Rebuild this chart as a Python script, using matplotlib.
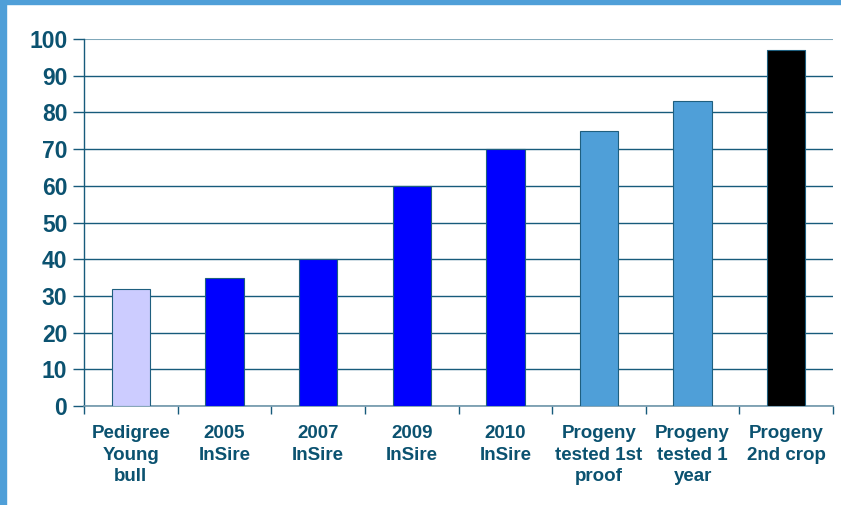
import matplotlib.pyplot as plt
from matplotlib.patches import Rectangle
import numpy as np

categories = ["Pedigree\nYoung\nbull", "2005\nInSire", "2007\nInSire", "2009\nInSire",
              "2010\nInSire", "Progeny\ntested 1st\nproof", "Progeny\ntested 1\nyear",
              "Progeny\n2nd crop"]
values = [32, 35, 40, 60, 70, 75, 83, 97]
colors = ["#CCCCFF", "#0000FF", "#0000FF", "#0000FF", "#0000FF",
          "#4F9FD8", "#4F9FD8", "#000000"]

text_col = "#0B5270"
plt.rcParams["font.family"] = ["Liberation Sans", "DejaVu Sans"]
plt.rcParams["font.weight"] = "bold"

fig = plt.figure(figsize=(8.41, 5.05), dpi=100)
ax = fig.add_axes([0.0999, 0.196, 0.8906, 0.7268])

x = np.arange(len(values))
ax.bar(x, values, width=0.41, color=colors, edgecolor="#1F5F7F", linewidth=0.8, zorder=3)

ax.set_xlim(-0.5, len(values) - 0.5)
ax.set_ylim(0, 100)
ax.set_yticks(range(0, 101, 10))
ax.grid(axis="y", color="#175B7B", linewidth=1.0, zorder=0)
ax.tick_params(axis="y", length=8, width=1, color="#175B7B", labelsize=16.5,
               labelcolor=text_col, pad=4)

ax.set_xticks(np.arange(len(values) + 1) - 0.5)
ax.set_xticklabels([])
ax.set_xticks(x, minor=True)
ax.set_xticklabels(categories, minor=True, linespacing=1.32)
ax.tick_params(axis="x", which="major", length=6, width=1, color="#175B7B", direction="out")
ax.tick_params(axis="x", which="minor", length=0, labelsize=13.5, labelcolor=text_col, pad=14)

for s in ["top", "right"]:
    ax.spines[s].set_visible(False)
ax.spines["left"].set_color("#175B7B")
ax.spines["bottom"].set_color("#6F96AA")
ax.spines["left"].set_linewidth(1)
ax.spines["bottom"].set_linewidth(1.2)
ax.yaxis.get_gridlines()[-1].set_color("#80A8BA")
ax.yaxis.get_gridlines()[-1].set_linewidth(1.5)

# frame strips along the top and left edges
fig.patches.append(Rectangle((0, 0), 6 / 841, 1, transform=fig.transFigure,
                             color="#4F9FD8", zorder=10))
fig.patches.append(Rectangle((0, 1 - 4 / 505), 1, 4 / 505, transform=fig.transFigure,
                             color="#4F9FD8", zorder=10))

fig.savefig("out.png", dpi=100)
